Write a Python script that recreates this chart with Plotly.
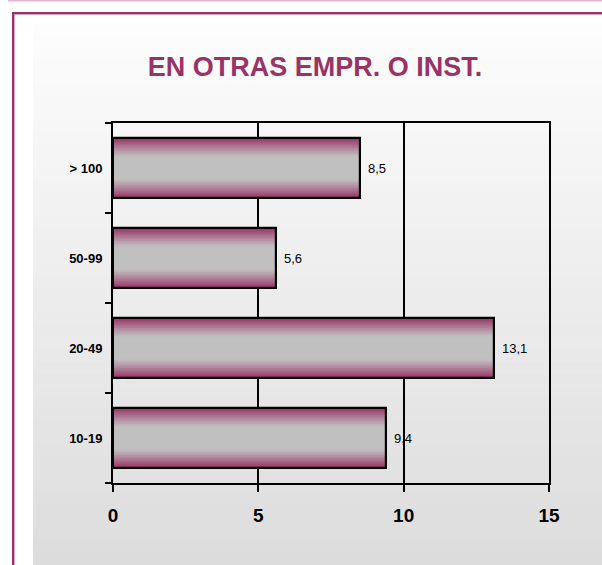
import plotly.graph_objects as go

# Chart data
categories = ["10-19", "20-49", "50-99", "> 100"]
values = [9.4, 13.1, 5.6, 8.5]
x_ticks = [0, 5, 10, 15]
title_text = "EN OTRAS EMPR. O INST."

# Canvas and plot-area geometry (pixels)
W, H = 602, 565
L, R, T, B = 113, 53, 123, 82
PW, PH = W - L - R, H - T - B

FONT = "Liberation Sans, Arial, sans-serif"
PURPLE = (153, 51, 102)
GRAY = (192, 192, 192)
BAR_W = 0.667


def px_x(px):
    return (px - L) / PW


def px_y(py):
    return (H - B - py) / PH


def mix(c1, c2, s):
    return "rgb(%d,%d,%d)" % tuple(round(a + (b - a) * s) for a, b in zip(c1, c2))


def bar_shade(t):
    # t: relative distance from bar centre line (0 centre, 1 edge)
    s = max(0.0, (t - 0.38) / 0.62)
    return mix(GRAY, PURPLE, s ** 1.1)


fig = go.Figure()

# Shaded bars built from stacked layers of decreasing thickness
N = 40
for k in range(N):
    frac = 1 - k / N
    fig.add_trace(go.Bar(
        x=values, y=categories, orientation="h",
        width=BAR_W * frac,
        marker=dict(color=bar_shade(frac), line=dict(width=0)),
        hoverinfo="skip", showlegend=False,
    ))

# Bar outlines
fig.add_trace(go.Bar(
    x=values, y=categories, orientation="h", width=BAR_W,
    marker=dict(color="rgba(0,0,0,0)", line=dict(color="black", width=2.2)),
    showlegend=False,
    hovertemplate="%{y}: %{x}<extra></extra>",
))

# Value labels with comma decimal separator
for cat, v in zip(categories, values):
    fig.add_annotation(
        x=v, y=cat, text=f"{v:.1f}".replace(".", ","),
        xanchor="left", yanchor="middle", xshift=6, showarrow=False,
        font=dict(family=FONT, size=13, color="black"),
    )

shapes = []
# Thin pink rule along the top edge
shapes.append(dict(type="rect", xref="paper", yref="paper",
                   x0=px_x(8), x1=px_x(W), y0=px_y(0), y1=px_y(1.5),
                   fillcolor="#e2b3cf", line=dict(width=0), layer="below"))
# Purple frame (dark line plus light inner line)
shapes.append(dict(type="rect", xref="paper", yref="paper",
                   x0=px_x(12), x1=px_x(W + 5), y0=px_y(12), y1=px_y(H + 5),
                   fillcolor="#d9a3c3", line=dict(width=0), layer="below"))
shapes.append(dict(type="rect", xref="paper", yref="paper",
                   x0=px_x(12), x1=px_x(W + 5), y0=px_y(12), y1=px_y(14),
                   fillcolor="#993366", line=dict(width=0), layer="below"))
shapes.append(dict(type="rect", xref="paper", yref="paper",
                   x0=px_x(12), x1=px_x(14), y0=px_y(12), y1=px_y(H + 5),
                   fillcolor="#993366", line=dict(width=0), layer="below"))
shapes.append(dict(type="rect", xref="paper", yref="paper",
                   x0=px_x(15), x1=px_x(W + 5), y0=px_y(15), y1=px_y(H + 5),
                   fillcolor="white", line=dict(width=0), layer="below"))
# Soft vertical background gradient of the chart panel
top_py, bot_py = 23, H
bands = 45
for i in range(bands):
    y0 = top_py + (bot_py - top_py) * i / bands
    y1 = top_py + (bot_py - top_py) * (i + 1) / bands + 0.5
    g = round(253 - (253 - 220) * (i + 0.5) / bands)
    shapes.append(dict(type="rect", xref="paper", yref="paper",
                       x0=px_x(33), x1=px_x(W + 5), y0=px_y(y0), y1=px_y(y1),
                       fillcolor="rgb(%d,%d,%d)" % (g, g, g),
                       line=dict(width=0), layer="below"))

fig.update_layout(
    width=W, height=H,
    margin=dict(l=L, r=R, t=T, b=B, pad=0),
    paper_bgcolor="white",
    plot_bgcolor="rgba(0,0,0,0)",
    barmode="overlay",
    bargap=0,
    shapes=shapes,
    title=dict(
        text=title_text, xref="container", yref="container",
        x=315 / W, xanchor="center", y=1 - 67 / H, yanchor="middle",
        font=dict(family=FONT, size=27, color="#993366", weight="bold"),
    ),
    xaxis=dict(
        range=[0, 15], tickvals=x_ticks, ticktext=[str(t) for t in x_ticks],
        showgrid=True, gridcolor="black", gridwidth=2, zeroline=False,
        showline=True, linecolor="black", linewidth=2, mirror=True,
        ticks="outside", ticklen=7, tickwidth=2, tickcolor="black",
        ticklabelstandoff=7,
        tickfont=dict(family=FONT, size=19, color="black", weight="bold"),
        fixedrange=True,
    ),
    yaxis=dict(
        type="category", categoryorder="array", categoryarray=categories,
        range=[-0.5, 3.5], showgrid=False, zeroline=False,
        showline=True, linecolor="black", linewidth=2, mirror=True,
        ticks="outside", tickson="boundaries", ticklen=6, tickwidth=2,
        tickcolor="black", ticklabelstandoff=6,
        tickfont=dict(family=FONT, size=13, color="black", weight="bold"),
        fixedrange=True,
    ),
)

fig.write_html("out.html")
